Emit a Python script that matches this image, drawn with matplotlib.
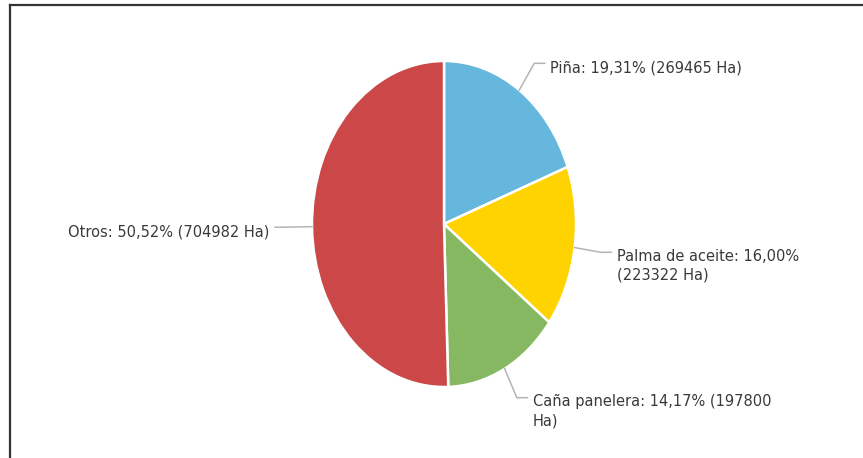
import numpy as np
import matplotlib.pyplot as plt
from matplotlib.lines import Line2D

# Area sembrada por cultivo (Ha)
cultivos = ['Piña', 'Palma de aceite', 'Caña panelera', 'Otros']
hectareas = [269465, 223322, 197800, 704982]
porcentajes = ['19,31%', '16,00%', '14,17%', '50,52%']
etiquetas = [
    'Piña: 19,31% (269465 Ha)',
    'Palma de aceite: 16,00%\n(223322 Ha)',
    'Caña panelera: 14,17% (197800\nHa)',
    'Otros: 50,52% (704982 Ha)',
]
colores = ['#66B7DD', '#FFD300', '#86B862', '#CC4848']

W, H = 863, 458
fig = plt.figure(figsize=(W / 100, H / 100), dpi=100)
ax = fig.add_axes([0, 0, 1, 1])

wedges, _ = ax.pie(hectareas, colors=colores, startangle=90, counterclock=False,
                   wedgeprops=dict(edgecolor='white', linewidth=1.8))

# pie is drawn taller than wide in the original
cx, cy, rx, ry = 444, 224, 132, 163
ax.set_aspect('auto')
ax.set_xlim(-cx / rx, (W - cx) / rx)
ax.set_ylim(-(H - cy) / ry, cy / ry)
ax.axis('off')

for w, txt in zip(wedges, etiquetas):
    ang = np.deg2rad((w.theta1 + w.theta2) / 2)
    c, s = np.cos(ang), np.sin(ang)
    lado = 1 if c >= 0 else -1
    ex, ey = 1.2 * c, 1.2 * s
    hx = ex + lado * 0.08
    ax.plot([c, ex, hx], [s, ey, ey], color='#b4b4b4', lw=1.1)
    multi = '\n' in txt
    ax.text(hx + lado * 0.04, ey + (0.02 if multi else -0.028), txt,
            ha='left' if lado > 0 else 'right', va='top' if multi else 'center',
            fontsize=10.5, color='#3a3a3a', linespacing=1.3)

# marco del contenedor (izquierda y arriba)
fig.add_artist(Line2D([10 / W, 10 / W], [0, 1 - 5 / H], color='#333333', lw=1.6,
                      transform=fig.transFigure))
fig.add_artist(Line2D([10 / W, 1], [1 - 5 / H, 1 - 5 / H], color='#333333', lw=1.6,
                      transform=fig.transFigure))

fig.savefig('out.png', dpi=100)
